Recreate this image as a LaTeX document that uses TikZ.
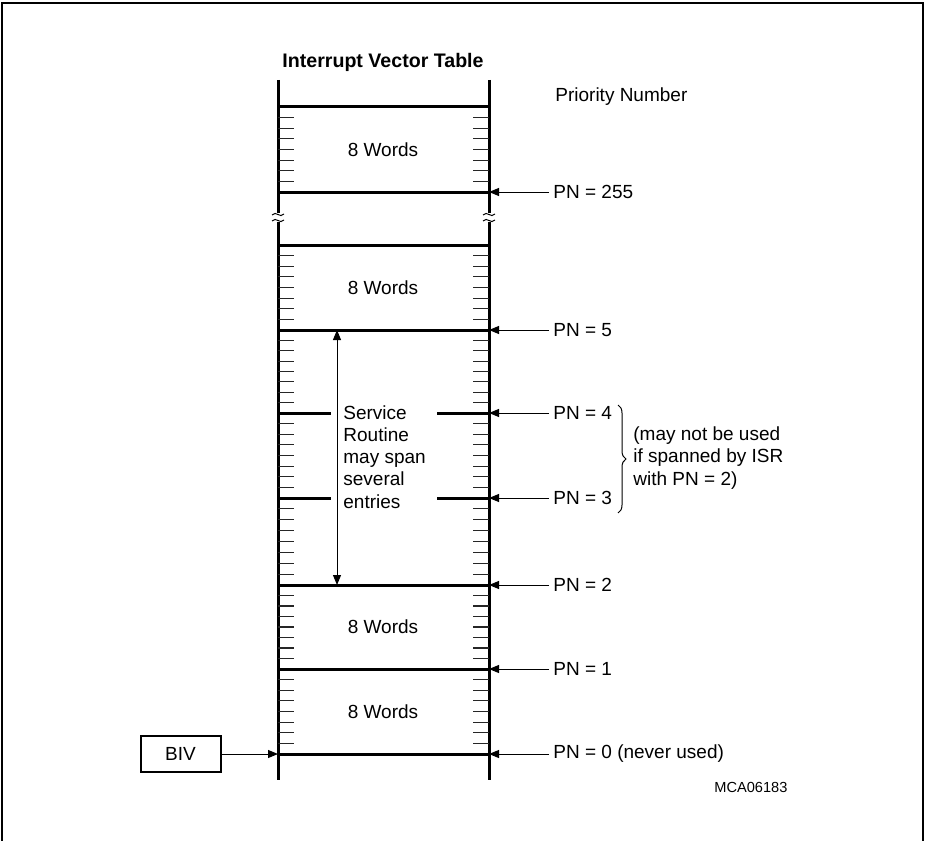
\documentclass[tikz,border=0pt]{standalone}
\usepackage{fontspec}
\setmainfont{Liberation Sans}
\usetikzlibrary{arrows.meta,decorations.pathreplacing}
\begin{document}
\begin{tikzpicture}[x=0.5pt,y=-0.5pt,
  mainline/.style={line width=1.5pt},
  tickline/.style={line width=0.6pt,black!85},
  arr/.style={line width=0.5pt,-{Triangle[length=5pt,width=4pt]}},
  dblarr/.style={line width=0.5pt,{Triangle[length=5pt,width=4pt]}-{Triangle[length=5pt,width=4pt]}},
  txt/.style={font=\fontsize{9.5}{11}\selectfont,inner sep=0pt},
  pnlabel/.style={font=\fontsize{9.5}{11}\selectfont,inner sep=2pt,anchor=west},
  wave/.style={line width=0.5pt}]
\useasboundingbox (0,0) rectangle (925,840);
\draw[line width=1pt] (2,842) -- (2,3) -- (923,3) -- (923,842);

% title and header
\node[font=\bfseries\fontsize{9.8}{11}\selectfont,inner sep=0pt] (title) at (383,62) {Interrupt Vector Table};
\node[txt,anchor=west] (prio) at (555,97) {Priority Number};

% vertical lines with break
\foreach \x in {278,489} {
  \draw[mainline] (\x,80) -- (\x,213);
  \draw[mainline] (\x,222) -- (\x,780);
  \draw[wave] (\x-6,215) .. controls (\x-2,210) and (\x+2,219) .. (\x+6,214);
  \draw[wave] (\x-6,221) .. controls (\x-2,216) and (\x+2,225) .. (\x+6,220);
}

% horizontal full lines
\foreach \y/\n in {107/top,192/p255,245/brk,330/p5,585/p2,669/p1,754/p0} {
  \coordinate (L\n) at (278,\y);
  \coordinate (R\n) at (489,\y);
  \draw[mainline] (L\n) -- (R\n);
}
% half lines
\foreach \y/\n in {413/p4,498/p3} {
  \coordinate (L\n) at (278,\y);
  \coordinate (R\n) at (489,\y);
  \draw[mainline] (L\n) -- (331,\y);
  \draw[mainline] (437,\y) -- (R\n);
}

% ticks
\foreach \a/\b in {107/192,245/330,330/413,413/498,498/585,585/669,669/754} {
  \foreach \i in {1,...,7} {
    \pgfmathsetmacro\yy{\a+(\b-\a)*\i/8}
    \draw[tickline] (278,\yy) -- (294,\yy) (473,\yy) -- (489,\yy);
  }
}

% cell labels
\node[txt] (w1) at (383,150) {8 Words};
\node[txt] (w2) at (383,288) {8 Words};
\node[txt] (w3) at (383,627) {8 Words};
\node[txt] (w4) at (383,712) {8 Words};

% service routine span
\coordinate (sa) at (337,330);
\coordinate (sb) at (337,585);
\draw[dblarr] (sa) -- (sb);
\node[txt,anchor=west,align=left,font=\fontsize{9.5}{11.1}\selectfont] (svc) at (343,457) {Service\\Routine\\may span\\several\\entries};

% PN labels and arrows
\node[pnlabel] (n255) at (549,192) {PN = 255};
\node[pnlabel] (n5) at (549,330) {PN = 5};
\node[pnlabel] (n4) at (549,413) {PN = 4};
\node[pnlabel] (n3) at (549,498) {PN = 3};
\node[pnlabel] (n2) at (549,585) {PN = 2};
\node[pnlabel] (n1) at (549,669) {PN = 1};
\node[pnlabel] (n0) at (549,754) {PN = 0 (never used)};
\foreach \n/\c in {n255/Rp255,n5/Rp5,n4/Rp4,n3/Rp3,n2/Rp2,n1/Rp1,n0/Rp0}
  \draw[arr] (\n.west) -- (\c);

% brace and note
\coordinate (bt) at (618,405);
\coordinate (bb) at (618,513);
\draw[line width=0.5pt,decorate,decoration={brace,amplitude=4pt}] (bt) -- (bb);
\node[txt,anchor=west,align=left,font=\fontsize{9.5}{11.3}\selectfont] (note) at (633,458) {(may not be used\\if spanned by ISR\\with PN = 2)};

% BIV
\node[draw,line width=1pt,minimum width=40pt,minimum height=18pt,inner sep=0pt,font=\fontsize{9.5}{11}\selectfont] (biv) at (180.5,754) {BIV};
\draw[arr] (biv.east) -- (Lp0);

% figure id
\node[font=\fontsize{7.3}{9}\selectfont,inner sep=0pt,anchor=west] (mca) at (714,787) {MCA06183};
\end{tikzpicture}
\end{document}
